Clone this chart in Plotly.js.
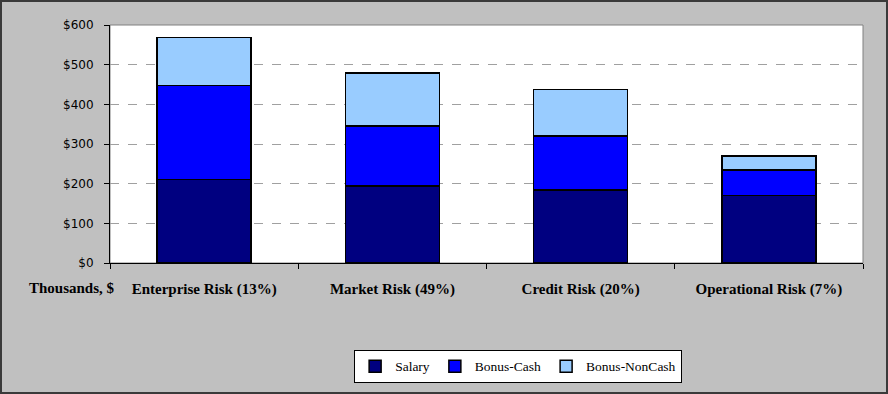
<!DOCTYPE html>
<html>
<head>
<meta charset="utf-8">
<script src="https://cdn.plot.ly/plotly-3.0.1.min.js"></script>
<style>
html,body{margin:0;padding:0;background:#c0c0c0;}
#chart{width:888px;height:394px;box-sizing:border-box;border:2px solid #3a3a3a;}
</style>
</head>
<body>
<div id="chart"></div>
<script>
const categories = ["Enterprise Risk (13%)", "Market Risk (49%)", "Credit Risk (20%)", "Operational Risk (7%)"];
const salary = [210, 194, 184, 170];
const bonusCash = [238, 151, 136, 64];
const bonusNonCash = [120, 134, 118, 36];
const seriesNames = ["Salary", "Bonus-Cash", "Bonus-NonCash"];
const colors = ["#000080", "#0000FF", "#99CCFF"];

const values = [salary, bonusCash, bonusNonCash];
const traces = values.map((v, i) => ({
  type: "bar",
  name: seriesNames[i],
  x: categories,
  y: v,
  marker: {color: colors[i], line: {color: "#000", width: 1.5}},
  hoverinfo: "x+y+name"
}));

const layout = {
  width: 884, height: 390,
  margin: {l: 108, r: 23, t: 23, b: 129, pad: 0, autoexpand: false},
  paper_bgcolor: "#c0c0c0",
  plot_bgcolor: "#ffffff",
  barmode: "stack",
  bargap: 0.5,
  showlegend: true,
  xaxis: {
    type: "category",
    showgrid: false,
    showline: true, linecolor: "#000", linewidth: 1,
    ticks: "outside", tickson: "boundaries", ticklen: 5, tickcolor: "#000",
    ticklabelstandoff: 12,
    tickfont: {family: "Liberation Serif", size: 15, color: "#000", weight: "bold"}
  },
  yaxis: {
    range: [0, 600], dtick: 100, tickprefix: "$",
    showgrid: true, gridcolor: "#a0a0a0", griddash: "dash", gridwidth: 1,
    zeroline: false,
    showline: true, linecolor: "#000", linewidth: 1,
    ticks: "outside", ticklen: 5, tickcolor: "#000",
    ticklabelstandoff: 8,
    tickfont: {family: "DejaVu Sans", size: 12, color: "#000"}
  },
  shapes: [{
    type: "rect", xref: "paper", yref: "paper", x0: 0, x1: 1, y0: 0, y1: 1,
    line: {color: "#808080", width: 1}, layer: "below"
  }],
  annotations: [{
    text: "Thousands, $", xref: "paper", yref: "paper", x: -0.05, y: -0.105,
    xanchor: "center", yanchor: "middle", showarrow: false,
    font: {family: "Liberation Serif", size: 15, color: "#000", weight: "bold"}
  }],
  legend: {
    orientation: "h", traceorder: "normal",
    x: 0.542, xanchor: "center", y: -0.365, yanchor: "top",
    bgcolor: "#ffffff", bordercolor: "#000", borderwidth: 1,
    font: {family: "Liberation Serif", size: 13.5, color: "#000"}
  }
};

Plotly.newPlot("chart", traces, layout, {displayModeBar: false, staticPlot: true});
</script>
</body>
</html>
